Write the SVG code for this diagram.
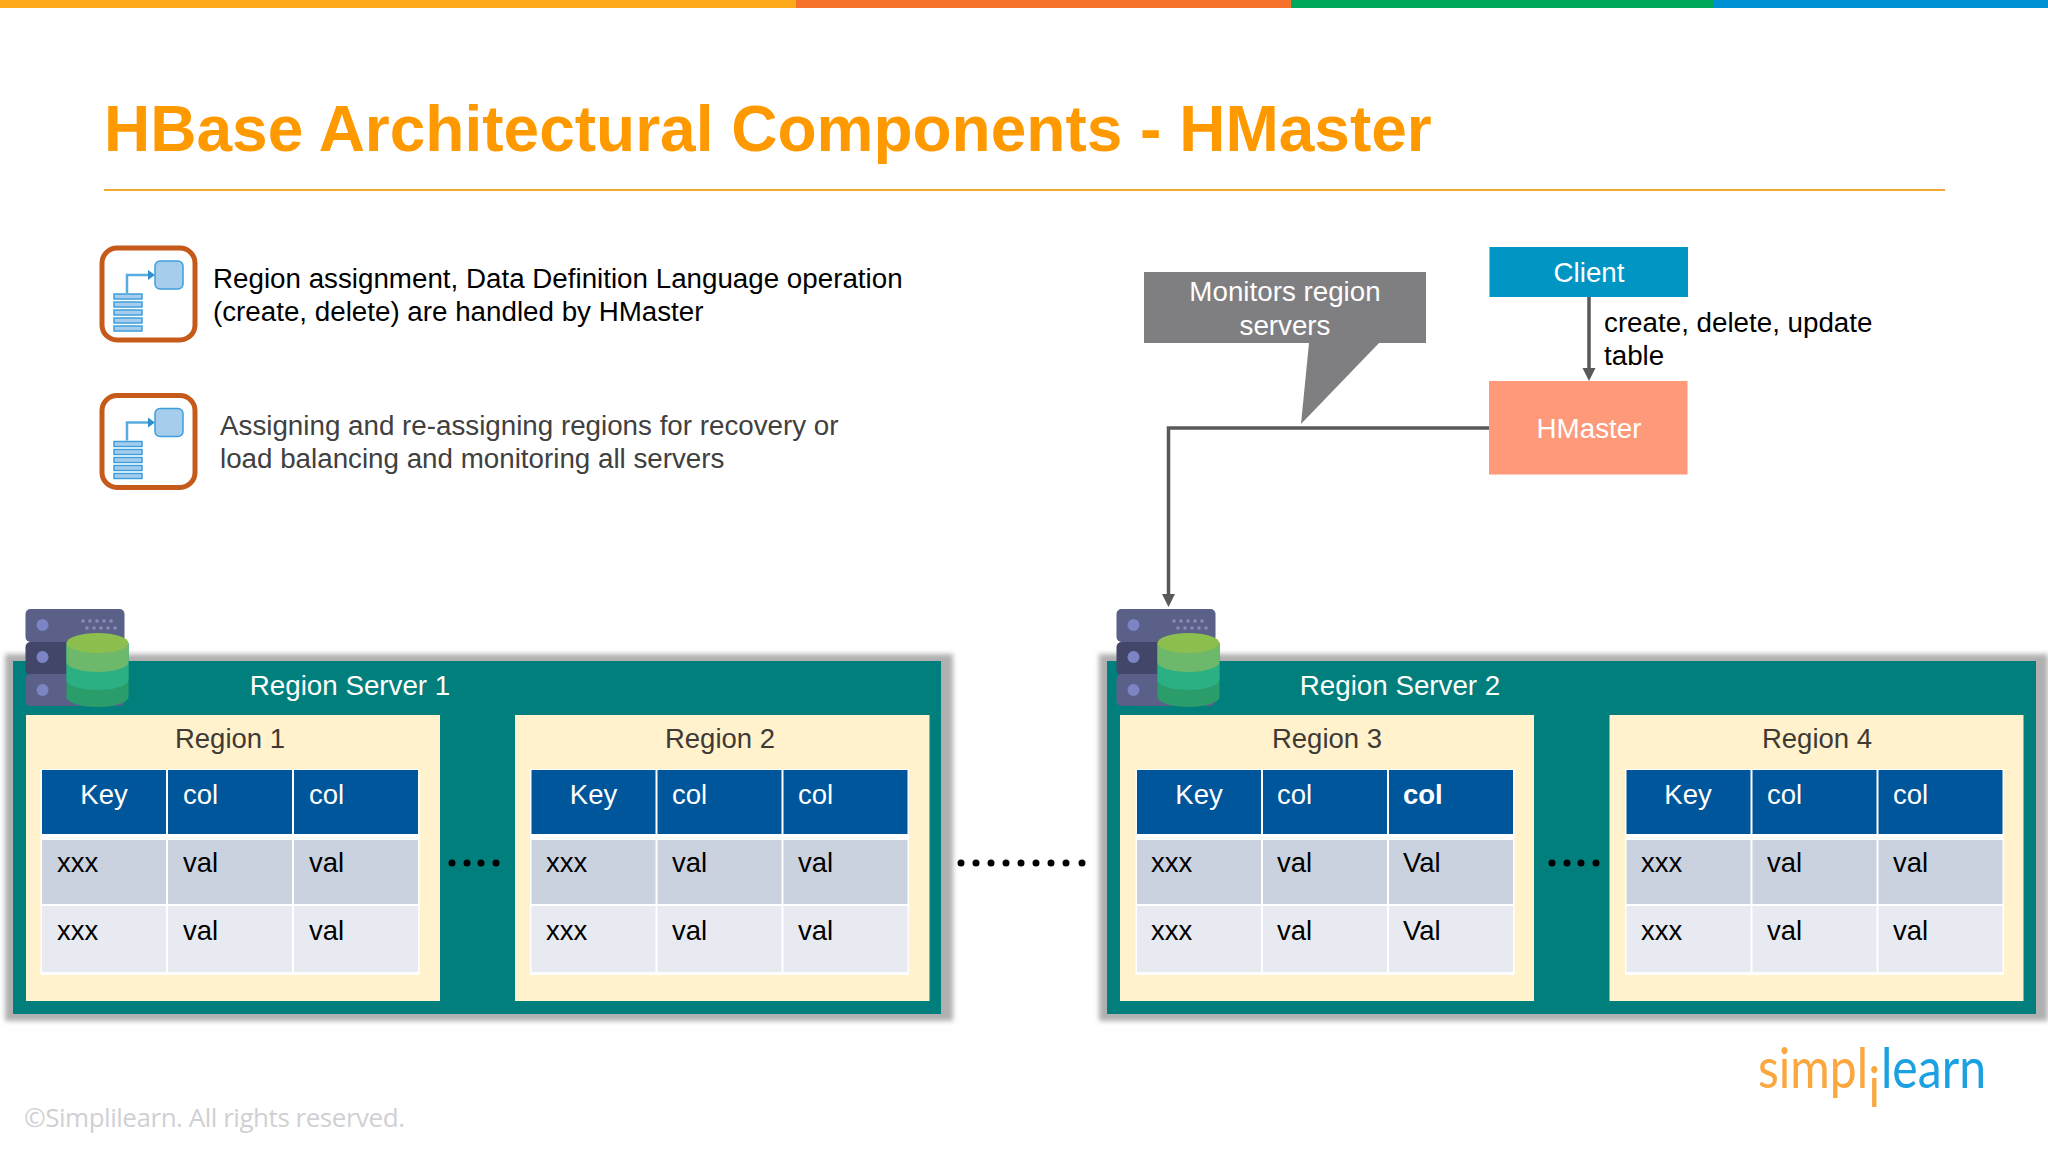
<svg xmlns="http://www.w3.org/2000/svg" xmlns:xlink="http://www.w3.org/1999/xlink" width="2048" height="1152" viewBox="0 0 2048 1152">
<style>
text{font-family:"Liberation Sans",Arial,sans-serif}
.t27{font-size:27.5px}
.body{font-size:27.75px}
.w{fill:#fff}
.k{fill:#000}
.m{text-anchor:middle}
.rg{font-size:27.5px;fill:#403a36;text-anchor:middle}
.rs{font-size:27.75px;fill:#fff;text-anchor:middle}
.h{fill:#00569b}
.r1{fill:#cbd2df}
.r2{fill:#e7eaf0}
.reg{fill:#fff2cc}
.srv{fill:#007f7c}
.sh{fill:#b0b0b0;filter:url(#blur)}
.dot{fill:#000}
.ln{fill:none;stroke:#58595b;stroke-width:3.5}
.iframe{fill:#fff;stroke:#c55a1a;stroke-width:5}
.ib{fill:#a6cdeb;stroke:#3e9fdc;stroke-width:1.5}
.il{fill:none;stroke:#58abe0;stroke-width:2.5}
</style>
<defs>
<filter id="blur" x="-5%" y="-5%" width="110%" height="110%"><feGaussianBlur stdDeviation="2.5"/></filter>
<marker id="arr" markerUnits="userSpaceOnUse" markerWidth="14" markerHeight="14" refX="3" refY="7" orient="auto"><path d="M0 0.5L13 7L0 13.5Z" fill="#58595b"/></marker>
<g id="tbl">
<rect x="-1.500" y="-1" width="379" height="206" fill="#fff"/>
<rect class="h" x="0" y="0" width="124" height="64"/><rect class="h" x="126" y="0" width="124" height="64"/><rect class="h" x="252" y="0" width="124" height="64"/>
<rect class="r1" x="0" y="70" width="124" height="64"/><rect class="r1" x="126" y="70" width="124" height="64"/><rect class="r1" x="252" y="70" width="124" height="64"/>
<rect class="r2" x="0" y="136" width="124" height="66"/><rect class="r2" x="126" y="136" width="124" height="66"/><rect class="r2" x="252" y="136" width="124" height="66"/>
</g>
<g id="rsIcon">
<rect x="0" y="0" width="99" height="33" rx="5" fill="#5a6088"/>
<rect x="0" y="33" width="99" height="33" rx="5" fill="#424769"/>
<rect x="0" y="65" width="99" height="32" rx="5" fill="#5a6088"/>
<circle cx="17" cy="16" r="6" fill="#7c84c4"/><circle cx="17" cy="48" r="6" fill="#7c84c4"/><circle cx="17" cy="81" r="6" fill="#7c84c4"/>
<path d="M56 12h34M60 19h34" stroke="#8a90bc" stroke-width="3" stroke-dasharray="3 4" fill="none"/>
<path d="M41 34v54a31 10 0 0 0 62 0v-54z" fill="#2a9d6b"/>
<path d="M41 34v37a31 10 0 0 0 62 0v-37z" fill="#2bb084"/>
<path d="M41 34v19a31 10 0 0 0 62 0v-19z" fill="#6db86b"/>
<ellipse cx="72" cy="34" rx="31" ry="10" fill="#8cbf4d"/>
</g>
<g id="docIcon">
<rect class="iframe" x="102" y="248" width="93" height="92" rx="15"/>
<path class="il" d="M127 293V275H150"/>
<path d="M148 270l7 5l-7 5z" fill="#2f8fd0"/>
<rect class="ib" x="155" y="261" width="28" height="28" rx="5"/>
<rect class="ib" x="114" y="294" width="28" height="5"/><rect class="ib" x="114" y="302" width="28" height="5"/><rect class="ib" x="114" y="310" width="28" height="5"/><rect class="ib" x="114" y="318" width="28" height="5"/><rect class="ib" x="114" y="326" width="28" height="5"/>
</g>
</defs>
<rect width="2048" height="1152" fill="#fff"/>
<g id="topbar">
<rect x="0" y="0" width="796" height="8" fill="#fba919"/><rect x="796" y="0" width="495" height="8" fill="#f4712a"/><rect x="1291" y="0" width="423" height="8" fill="#00a85e"/><rect x="1714" y="0" width="334" height="8" fill="#0091d5"/>
</g>
<text id="title" x="104" y="151" font-size="64" font-weight="700" fill="#ff9900">HBase Architectural Components - HMaster</text>
<rect x="104" y="189" width="1841" height="2" fill="#f0a830"/>

<g id="point1"><use xlink:href="#docIcon" href="#docIcon"/>
<text class="body k" x="213" y="288">Region assignment, Data Definition Language operation</text>
<text class="body k" x="213" y="321">(create, delete) are handled by HMaster</text></g>
<g id="point2"><use xlink:href="#docIcon" href="#docIcon" y="147.500"/>
<text class="body" fill="#404040" x="220" y="435">Assigning and re-assigning regions for recovery or</text>
<text class="body" fill="#404040" x="220" y="468">load balancing and monitoring all servers</text></g>

<g id="callout"><path d="M1144 272H1426V343H1379L1301 424L1309 343H1144Z" fill="#7f7e80"/>
<text class="body w m" x="1285" y="301">Monitors region</text><text class="body w m" x="1285" y="335">servers</text></g>
<g id="client"><rect x="1489.500" y="247" width="198.500" height="50" fill="#0095c3"/><text class="body w m" x="1589" y="282">Client</text></g>
<g id="hmaster"><rect x="1489" y="381" width="198.500" height="93.500" fill="#fe9a7a"/><text class="body w m" x="1589" y="438">HMaster</text></g>
<g id="connectors">
<path class="ln" d="M1589 297V371" marker-end="url(#arr)"/>
<path class="ln" d="M1489 428H1168.500V597" marker-end="url(#arr)"/>
</g>
<text id="edge-label" class="body k" x="1604" y="332">create, delete, update<tspan x="1604" y="365">table</tspan></text>

<g id="server1">
<rect class="sh" x="5" y="654" width="948" height="367"/>
<rect class="srv" x="13" y="661" width="928" height="353"/>
<text class="rs" x="350" y="695">Region Server 1</text>
<use xlink:href="#rsIcon" href="#rsIcon" x="25.500" y="609"/>
<g id="region1"><rect class="reg" x="26" y="715" width="414" height="286"/><text class="rg" x="230" y="748">Region 1</text>
<use xlink:href="#tbl" href="#tbl" x="42" y="770"/>
<text class="t27 w m" x="104" y="804">Key</text><text class="t27 w" x="183" y="804">col</text><text class="t27 w" x="309" y="804">col</text>
<text class="t27 k" x="57" y="872">xxx</text><text class="t27 k" x="183" y="872">val</text><text class="t27 k" x="309" y="872">val</text>
<text class="t27 k" x="57" y="940">xxx</text><text class="t27 k" x="183" y="940">val</text><text class="t27 k" x="309" y="940">val</text></g>
<g id="region2"><rect class="reg" x="515" y="715" width="414.500" height="286"/><text class="rg" x="720" y="748">Region 2</text>
<use xlink:href="#tbl" href="#tbl" x="531.500" y="770"/>
<text class="t27 w m" x="593.500" y="804">Key</text><text class="t27 w" x="672" y="804">col</text><text class="t27 w" x="798" y="804">col</text>
<text class="t27 k" x="546" y="872">xxx</text><text class="t27 k" x="672" y="872">val</text><text class="t27 k" x="798" y="872">val</text>
<text class="t27 k" x="546" y="940">xxx</text><text class="t27 k" x="672" y="940">val</text><text class="t27 k" x="798" y="940">val</text></g>
<g id="dots1"><circle class="dot" cx="452" cy="863" r="3.500"/><circle class="dot" cx="467" cy="863" r="3.500"/><circle class="dot" cx="481" cy="863" r="3.500"/><circle class="dot" cx="496" cy="863" r="3.500"/></g>
</g>

<g id="dots-between"><circle class="dot" cx="961" cy="863" r="3.500"/><circle class="dot" cx="976" cy="863" r="3.500"/><circle class="dot" cx="991" cy="863" r="3.500"/><circle class="dot" cx="1006" cy="863" r="3.500"/><circle class="dot" cx="1021" cy="863" r="3.500"/><circle class="dot" cx="1036" cy="863" r="3.500"/><circle class="dot" cx="1051" cy="863" r="3.500"/><circle class="dot" cx="1066" cy="863" r="3.500"/><circle class="dot" cx="1082" cy="863" r="3.500"/></g>

<g id="server2">
<rect class="sh" x="1099" y="654" width="949" height="367"/>
<rect class="srv" x="1107" y="661" width="929" height="353"/>
<text class="rs" x="1400" y="695">Region Server 2</text>
<use xlink:href="#rsIcon" href="#rsIcon" x="1116.500" y="609"/>
<g id="region3"><rect class="reg" x="1120" y="715" width="414" height="286"/><text class="rg" x="1327" y="748">Region 3</text>
<use xlink:href="#tbl" href="#tbl" x="1137" y="770"/>
<text class="t27 w m" x="1199" y="804">Key</text><text class="t27 w" x="1277" y="804">col</text><text class="t27 w" font-weight="700" x="1403" y="804">col</text>
<text class="t27 k" x="1151" y="872">xxx</text><text class="t27 k" x="1277" y="872">val</text><text class="t27 k" x="1403" y="872">Val</text>
<text class="t27 k" x="1151" y="940">xxx</text><text class="t27 k" x="1277" y="940">val</text><text class="t27 k" x="1403" y="940">Val</text></g>
<g id="region4"><rect class="reg" x="1609.500" y="715" width="414" height="286"/><text class="rg" x="1817" y="748">Region 4</text>
<use xlink:href="#tbl" href="#tbl" x="1626.500" y="770"/>
<text class="t27 w m" x="1688" y="804">Key</text><text class="t27 w" x="1767" y="804">col</text><text class="t27 w" x="1893" y="804">col</text>
<text class="t27 k" x="1641" y="872">xxx</text><text class="t27 k" x="1767" y="872">val</text><text class="t27 k" x="1893" y="872">val</text>
<text class="t27 k" x="1641" y="940">xxx</text><text class="t27 k" x="1767" y="940">val</text><text class="t27 k" x="1893" y="940">val</text></g>
<g id="dots2"><circle class="dot" cx="1552" cy="863" r="3.500"/><circle class="dot" cx="1567" cy="863" r="3.500"/><circle class="dot" cx="1581" cy="863" r="3.500"/><circle class="dot" cx="1596" cy="863" r="3.500"/></g>
</g>

<g id="logo">
<text x="1758" y="1088" font-size="56" style="font-family:Lato,sans-serif" fill="#f9a73e" textLength="110" lengthAdjust="spacingAndGlyphs">simpl</text>
<text transform="translate(1868.500,1107) scale(1,1.150)" font-size="48" style="font-family:Lato,sans-serif" fill="#f9a73e">i</text>
<text x="1881" y="1088" font-size="56" style="font-family:Lato,sans-serif" fill="#1ba1e2" textLength="105" lengthAdjust="spacingAndGlyphs">learn</text>
</g>
<text id="copyright" x="24" y="1127" font-size="26" style="font-family:'Open Sans',sans-serif" fill="#d0d0d4" textLength="381">©Simplilearn. All rights reserved.</text>
</svg>
